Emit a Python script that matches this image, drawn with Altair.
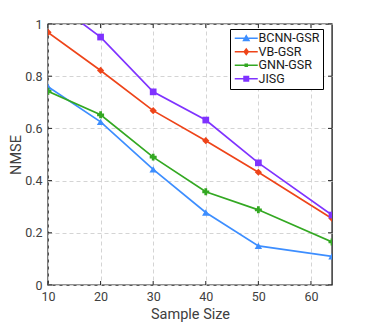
import altair as alt
import pandas as pd

# ---- data ----
sample_size = [10, 20, 30, 40, 50, 64]
bcnn_gsr = [0.760, 0.625, 0.443, 0.278, 0.150, 0.110]
vb_gsr = [0.968, 0.822, 0.668, 0.553, 0.432, 0.255]
gnn_gsr = [0.742, 0.652, 0.490, 0.357, 0.288, 0.165]
jisg = [1.100, 0.950, 0.740, 0.632, 0.468, 0.268]

methods = ["BCNN-GSR", "VB-GSR", "GNN-GSR", "JISG"]
colors = ["#3D8EFF", "#EE4419", "#33A822", "#7F33FF"]
shapes = ["triangle-up", "diamond", "cross", "square"]
marker_sizes = [55, 45, 16, 38]

x_ticks = [10, 20, 30, 40, 50, 60]
y_ticks = [0, 0.2, 0.4, 0.6, 0.8, 1]

# legend glyphs: a short line with the marker on it (unit path, scaled by symbol size)
seg = "M-2.3,-0.17H2.3V0.17H-2.3Z "
legend_glyphs = [
    seg + "M-0.8,0.6L0,-0.8L0.8,0.6Z",
    seg + "M0,-0.8L0.6,0L0,0.8L-0.6,0Z",
    seg + "M-0.35,-0.35H0.35V0.35H-0.35Z",
    seg + "M-0.6,-0.6H0.6V0.6H-0.6Z",
]

series = {"BCNN-GSR": bcnn_gsr, "VB-GSR": vb_gsr, "GNN-GSR": gnn_gsr, "JISG": jisg}
rows = []
for m in methods:
    for s, v in zip(sample_size, series[m]):
        rows.append({"Sample": s, "NMSE": v, "Method": m})
df = pd.DataFrame(rows)
xt = pd.DataFrame({"v": x_ticks})
yt = pd.DataFrame({"v": y_ticks})

W, H = 284, 261
FONT = "Roboto"
TXT = "#404040"
FRAME = "#262626"
TL = 4

xscale = alt.Scale(domain=[10, 64], nice=False, zero=False)
yscale = alt.Scale(domain=[0, 1], nice=False)
xaxis = alt.Axis(values=x_ticks, title="Sample Size", grid=True, gridDash=[4, 3],
                 gridColor="#d4d4d4", ticks=False, domain=False, labelPadding=5,
                 titlePadding=5, format="d", labelFlush=False)
yaxis = alt.Axis(values=y_ticks, title="NMSE", grid=True, gridDash=[4, 3],
                 gridColor="#d4d4d4", ticks=False, domain=False, labelPadding=6,
                 titlePadding=1, format="~g", labelFlush=False)

X = alt.X("Sample:Q", scale=xscale, axis=xaxis)
Y = alt.Y("NMSE:Q", scale=yscale, axis=yaxis)

lines = alt.Chart(df).mark_line(clip=True, strokeWidth=1.7).encode(
    x=X, y=Y,
    color=alt.Color("Method:N", scale=alt.Scale(domain=methods, range=colors), legend=None),
)

points = alt.Chart(df).mark_point(filled=True, clip=True, opacity=1).encode(
    x=X, y=Y,
    color=alt.Color("Method:N", scale=alt.Scale(domain=methods, range=colors), legend=None),
    shape=alt.Shape("Method:N", scale=alt.Scale(domain=methods, range=shapes), legend=None),
    size=alt.Size("Method:N", scale=alt.Scale(domain=methods, range=marker_sizes), legend=None),
)

leg = alt.Legend(orient="none", legendX=182, legendY=5, title=None,
                 symbolSize=100, symbolOffset=7, symbolStrokeWidth=0,
                 strokeColor="black", fillColor="white", padding=3,
                 labelFontSize=12.5, labelFont=FONT, labelColor="#1a1a1a",
                 labelOffset=6, rowPadding=0.5)
legend_layer = alt.Chart(df).transform_filter("false").mark_point(
    filled=True, size=100, opacity=1).encode(
    x=X, y=Y,
    color=alt.Color("Method:N", scale=alt.Scale(domain=methods, range=colors), legend=leg),
    shape=alt.Shape("Method:N", scale=alt.Scale(domain=methods, range=legend_glyphs), legend=leg),
)

XT = alt.X("v:Q", scale=xscale, axis=xaxis)
YT = alt.Y("v:Q", scale=yscale, axis=yaxis)
tick_b = alt.Chart(xt).mark_rule(color=FRAME, strokeWidth=1).encode(x=XT, y=alt.value(H), y2=alt.value(H - TL))
tick_t = alt.Chart(xt).mark_rule(color=FRAME, strokeWidth=1).encode(x=XT, y=alt.value(0), y2=alt.value(TL))
tick_l = alt.Chart(yt).mark_rule(color=FRAME, strokeWidth=1).encode(y=YT, x=alt.value(0), x2=alt.value(TL))
tick_r = alt.Chart(yt).mark_rule(color=FRAME, strokeWidth=1).encode(y=YT, x=alt.value(W), x2=alt.value(W - TL))

chart = alt.layer(lines, points, legend_layer, tick_b, tick_t, tick_l, tick_r).resolve_scale(
    color="independent", shape="independent", size="independent"
).properties(
    width=W, height=H, autosize="none",
    padding={"left": 40, "top": 16, "right": 26, "bottom": 38},
).configure_view(stroke=FRAME, strokeWidth=1.4).configure_axis(
    labelFont=FONT, labelFontSize=12.5, labelColor=TXT,
    titleFont=FONT, titleFontSize=14.5, titleColor=TXT, titleFontWeight="normal",
)

chart.save("out.html", embed_options={"renderer": "svg", "actions": False})
